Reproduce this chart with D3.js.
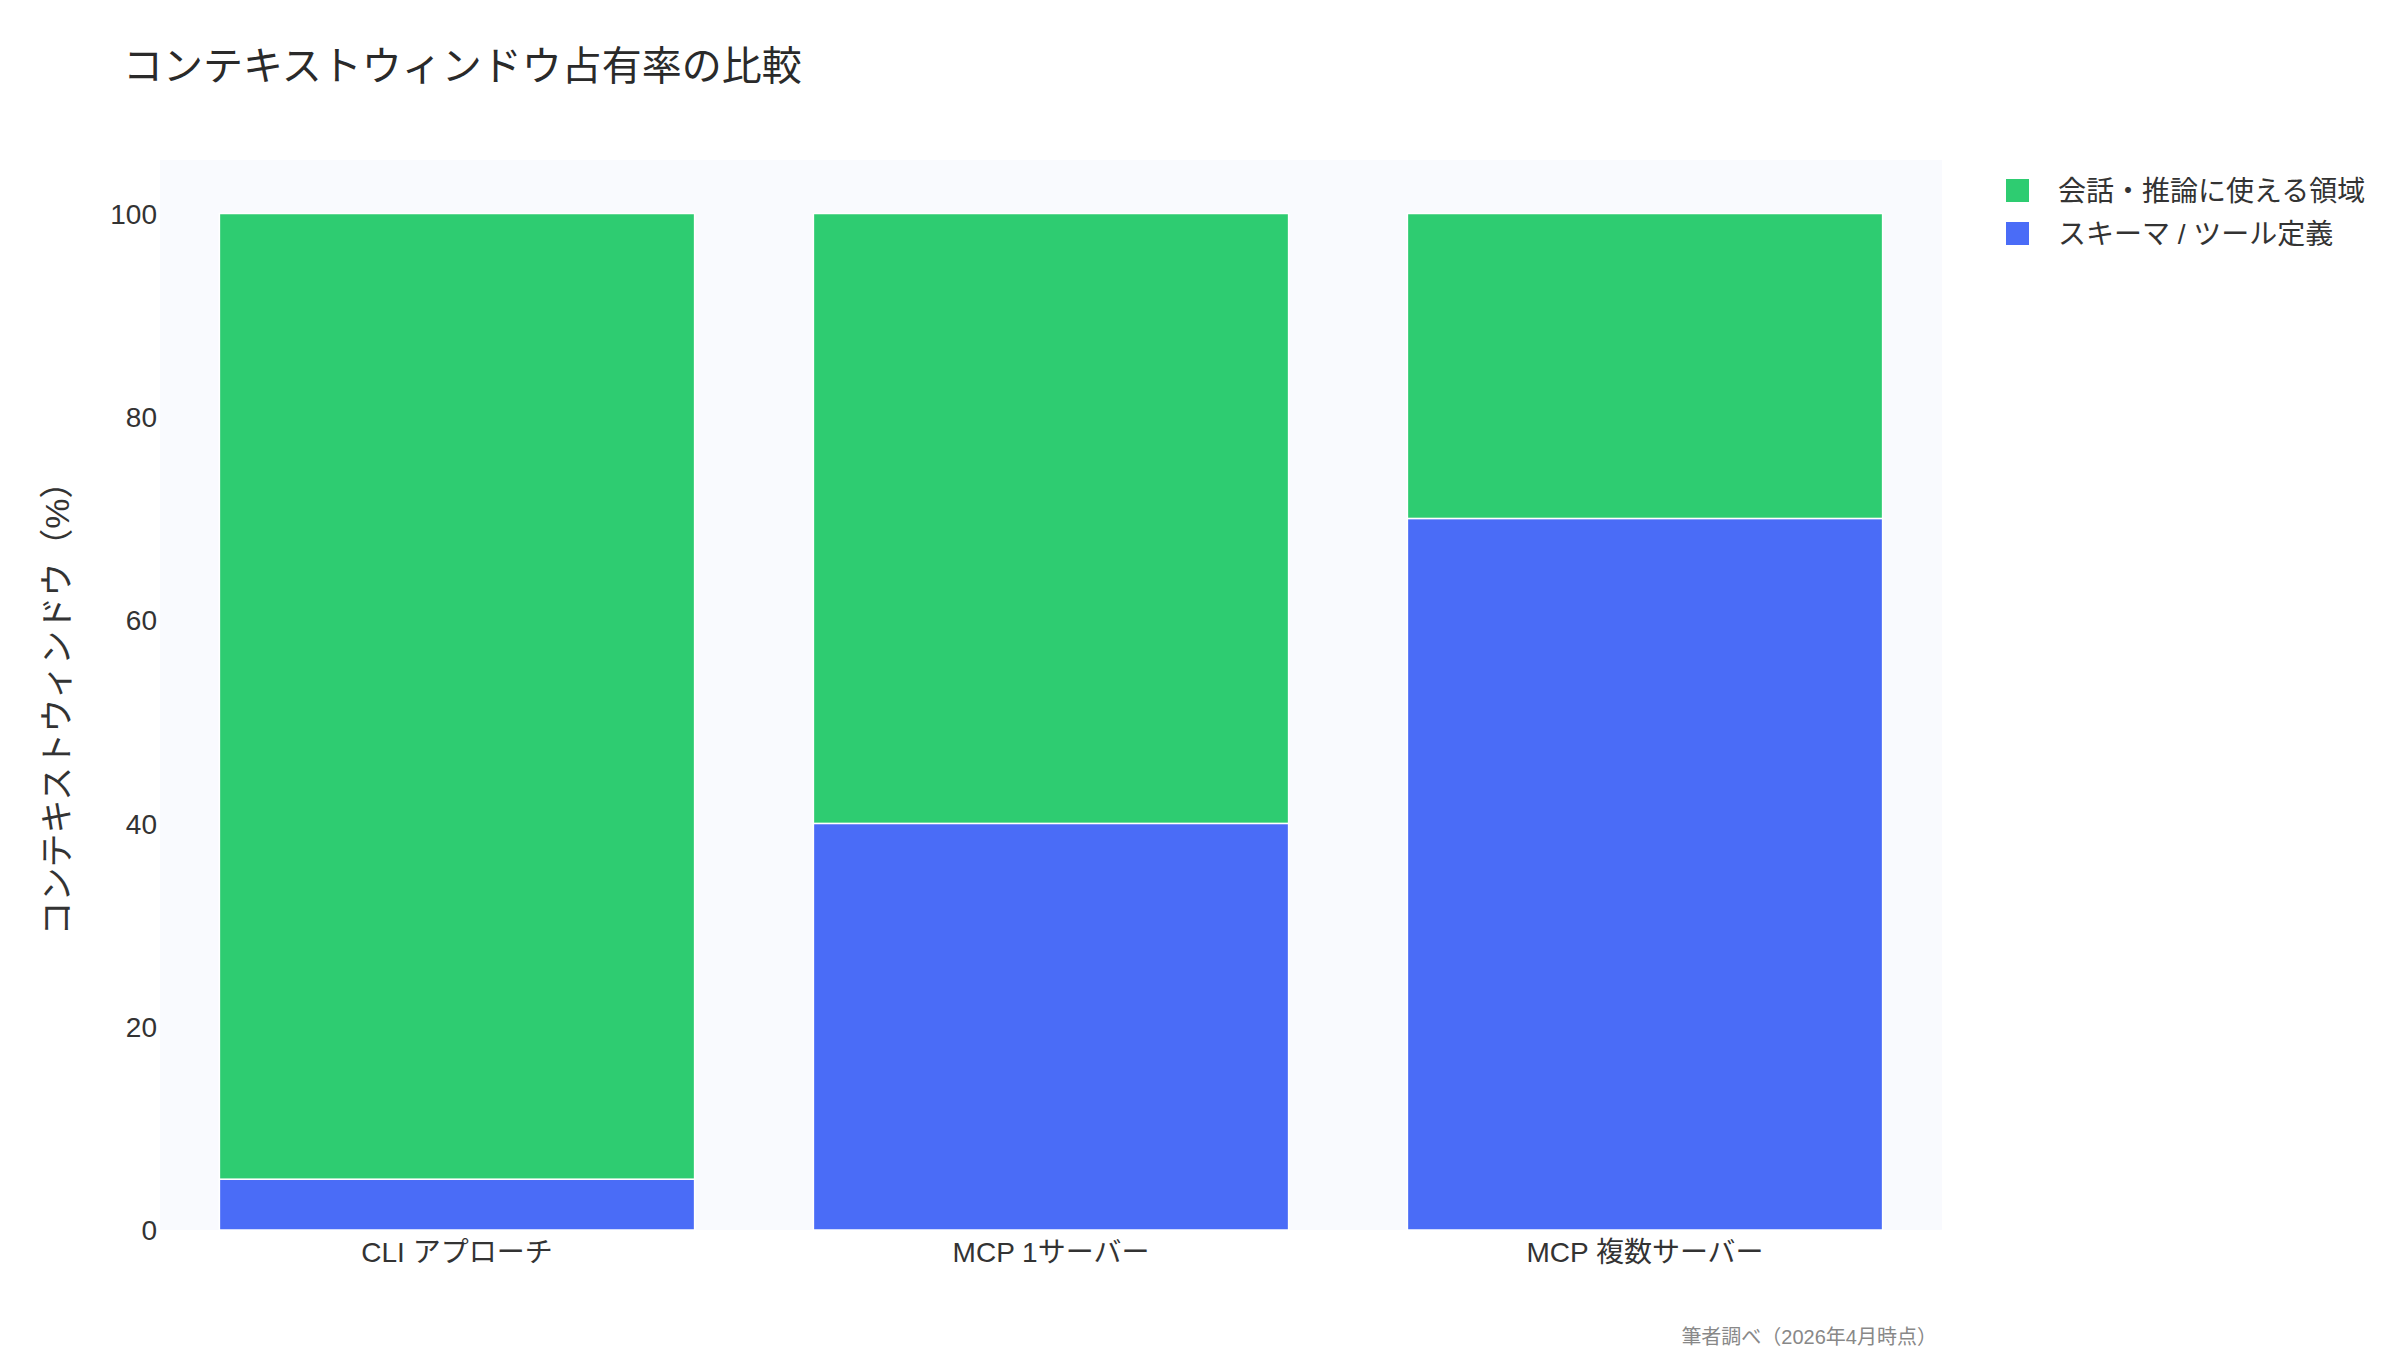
<!DOCTYPE html>
<html>
<head>
<meta charset="utf-8">
<script src="https://cdn.jsdelivr.net/npm/d3@7"></script>
<style>
  body { margin: 0; background: #fff; }
  svg { display: block; }
  text { font-family: "Liberation Sans", Arial, "Noto Sans CJK JP", sans-serif; }
</style>
</head>
<body>
<div id="chart"></div>
<script>
// Data
const categories = ["CLI アプローチ", "MCP 1サーバー", "MCP 複数サーバー"];
const schemaShare = [5, 40, 70];      // スキーマ / ツール定義
const freeShare = [95, 60, 30];       // 会話・推論に使える領域
const yTicks = [0, 20, 40, 60, 80, 100];
const seriesNames = ["スキーマ / ツール定義", "会話・推論に使える領域"];
const seriesColors = ["#4a6cf7", "#2ecc71"];

const W = 2400, H = 1350;
const plot = { left: 160, right: 1942, top: 160, bottom: 1230 };

const svg = d3.select("#chart").append("svg")
  .attr("width", W).attr("height", H);

// plot background
svg.append("rect")
  .attr("x", plot.left).attr("y", plot.top)
  .attr("width", plot.right - plot.left)
  .attr("height", plot.bottom - plot.top)
  .attr("fill", "#f9fafe");

const x = d3.scaleBand()
  .domain(categories)
  .range([plot.left, plot.right])
  .paddingInner(0.2)
  .paddingOuter(0.1);

const y = d3.scaleLinear()
  .domain([0, 100 / 0.95])
  .range([plot.bottom, plot.top]);

const rows = categories.map((c, i) => ({ cat: c, schema: schemaShare[i], free: freeShare[i] }));
const stacked = d3.stack().keys(["schema", "free"])(rows);

svg.append("g").selectAll("g")
  .data(stacked)
  .join("g")
  .attr("fill", (d, i) => seriesColors[i])
  .selectAll("rect")
  .data(d => d)
  .join("rect")
  .attr("x", d => x(d.data.cat))
  .attr("width", x.bandwidth())
  .attr("y", d => y(d[1]))
  .attr("height", d => y(d[0]) - y(d[1]))
  .attr("stroke", "#ffffff")
  .attr("stroke-width", 1.5);

// y axis
const yAxis = svg.append("g")
  .attr("transform", "translate(" + (plot.left - 3) + ",0)")
  .call(d3.axisLeft(y).tickValues(yTicks).tickSize(0).tickPadding(0));
yAxis.select(".domain").remove();
yAxis.selectAll("text")
  .attr("font-size", 28)
  .attr("fill", "#333")
  .attr("dy", "0.35em")
  .style("font-family", "\"Liberation Sans\", Arial, \"Noto Sans CJK JP\", sans-serif");

// x axis
const xAxis = svg.append("g")
  .attr("transform", "translate(0," + plot.bottom + ")")
  .call(d3.axisBottom(x).tickSize(0).tickPadding(0));
xAxis.select(".domain").remove();
xAxis.selectAll("text")
  .attr("font-size", 28)
  .attr("fill", "#333")
  .attr("y", 22)
  .attr("dy", "0.35em")
  .style("font-family", "\"Liberation Sans\", Arial, \"Noto Sans CJK JP\", sans-serif");

// y axis title
svg.append("text")
  .attr("transform", "translate(57,700) rotate(-90)")
  .attr("text-anchor", "middle")
  .attr("dominant-baseline", "central")
  .attr("font-size", 34)
  .attr("fill", "#333")
  .text("コンテキストウィンドウ（%）");

// title
svg.append("text")
  .attr("x", 123).attr("y", 66)
  .attr("dominant-baseline", "central")
  .attr("font-size", 40)
  .attr("fill", "#2a2a2a")
  .text("コンテキストウィンドウ占有率の比較");

// legend (stacked order reversed: top series first)
const legendItems = [1, 0];
const legend = svg.append("g").selectAll("g")
  .data(legendItems)
  .join("g")
  .attr("transform", (d, i) => "translate(2006," + (191 + i * 43) + ")");
legend.append("rect")
  .attr("x", 0).attr("y", -12)
  .attr("width", 23).attr("height", 23)
  .attr("fill", d => seriesColors[d]);
legend.append("text")
  .attr("x", 52).attr("y", 0)
  .attr("dominant-baseline", "central")
  .attr("font-size", 28)
  .attr("fill", "#333")
  .text(d => seriesNames[d]);

// source note
svg.append("text")
  .attr("x", 1937).attr("y", 1337)
  .attr("text-anchor", "end")
  .attr("dominant-baseline", "central")
  .attr("font-size", 20)
  .attr("fill", "#888")
  .text("筆者調べ（2026年4月時点）");
</script>
</body>
</html>
